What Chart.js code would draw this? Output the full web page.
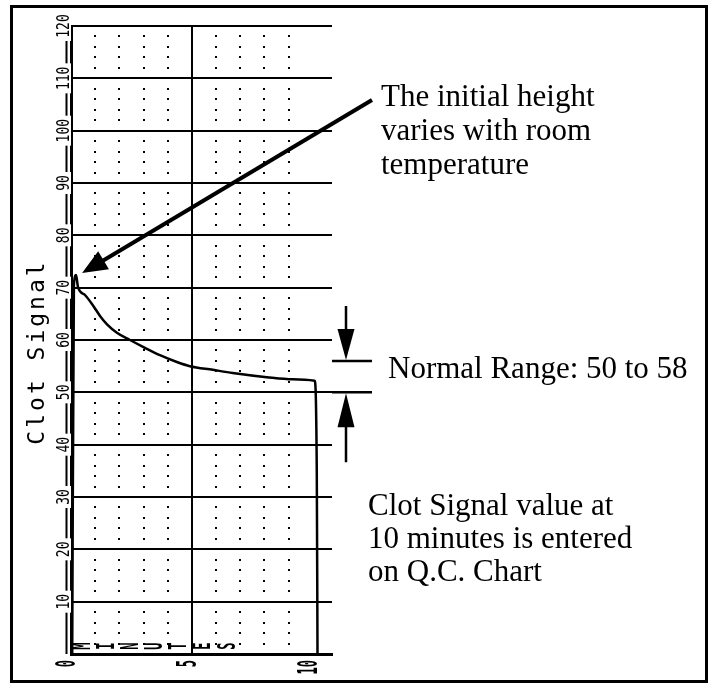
<!DOCTYPE html>
<html>
<head>
<meta charset="utf-8">
<script src="https://cdn.jsdelivr.net/npm/chart.js@4/dist/chart.umd.min.js"></script>
<style>
    body { margin: 0; background: #fff; }
    canvas { display: block; }
</style>
</head>
<body>
<canvas id="chart" width="713" height="688"></canvas>
<script>
/*********************************/
// Clot signal trace
const MINUTES = [0.05, 0.12, 0.21, 0.29, 0.58, 0.91, 1.2, 1.49, 1.9, 2.44, 2.98, 3.68, 4.38, 4.92, 5.87, 6.69, 8.1, 9.17, 10.08, 10.17, 10.2];
const SIGNAL = [0, 70.5, 72.4, 70.1, 68.6, 66.6, 64.6, 63.0, 61.4, 60.0, 58.7, 57.1, 55.8, 55.0, 54.3, 53.7, 52.9, 52.5, 52.2, 35, 0];

const X_TICKS = [0, 5, 10];
const Y_TICKS = [10, 20, 30, 40, 50, 60, 70, 80, 90, 100, 110, 120];
const X_TITLE = "MINUTES";
const Y_TITLE = "Clot Signal";

// bracket drawn beside the trace for the normal range
const RANGE_MARK = [50, 56];

const NOTE_TOP = ["The initial height", "varies with room", "temperature"];
const NOTE_RANGE = "Normal Range: 50 to 58";
const NOTE_BOTTOM = ["Clot Signal value at", "10 minutes is entered", "on Q.C. Chart"];

const SERIF = "31px 'Liberation Serif', serif";
const MONO = "'DejaVu Sans Mono', monospace";

/*****************************/
// Printer style glyphs: turned a quarter left and stretched
function rot_text(ctx, text, x, y, size, stretch, align, bold) {
    ctx.save();
    ctx.translate(x, y);
    ctx.rotate(-Math.PI / 2);
    ctx.scale(1, stretch);
    ctx.font = (bold ? "bold " : "") + size + "px " + MONO;
    ctx.textAlign = align;
    ctx.textBaseline = "middle";
    ctx.fillStyle = "#000";
    ctx.fillText(text, 0, 0);
    ctx.restore();
}

function arrow_head(ctx, tx, ty, fx, fy, len, half) {
    const d = Math.hypot(fx - tx, fy - ty);
    const ux = (fx - tx) / d, uy = (fy - ty) / d;
    const bx = tx + ux * len, by = ty + uy * len;
    ctx.beginPath();
    ctx.moveTo(tx, ty);
    ctx.lineTo(bx - uy * half, by + ux * half);
    ctx.lineTo(bx + uy * half, by - ux * half);
    ctx.closePath();
    ctx.fill();
}

const frame_plugin = {
    id: "frame",
    beforeDraw(chart) {
        const ctx = chart.ctx;
        ctx.save();
        ctx.fillStyle = "#fff";
        ctx.fillRect(0, 0, chart.width, chart.height);
        ctx.strokeStyle = "#000";
        ctx.lineWidth = 3;
        ctx.strokeRect(11.5, 6.5, 695, 675);
        ctx.restore();
    }
};

// dotted graph paper: every minute, every 2 units
const dots_plugin = {
    id: "dots",
    beforeDatasetsDraw(chart) {
        const ctx = chart.ctx;
        const xs = chart.scales.x, ys = chart.scales.y;
        ctx.save();
        ctx.fillStyle = "#000";
        for (let m = 1; m < 10; m++) {
            if (m === 5) continue;
            for (let v = 2; v < 120; v += 2) {
                if (v % 10 === 0) continue;
                const px = Math.round(xs.getPixelForValue(m));
                const py = Math.round(ys.getPixelForValue(v));
                ctx.fillRect(px - 1, py - 1, 2, 2);
            }
        }
        ctx.restore();
    }
};

const labels_plugin = {
    id: "labels",
    afterDraw(chart) {
        const ctx = chart.ctx;
        const xs = chart.scales.x, ys = chart.scales.y;
        const area = chart.chartArea;

        // y ticks sit on a broken vertical line
        ctx.save();
        ctx.strokeStyle = "#000";
        ctx.lineWidth = 2;
        ctx.beginPath();
        ctx.moveTo(66.5, area.bottom);
        ctx.lineTo(66.5, ys.getPixelForValue(120) - 8);
        ctx.stroke();
        ctx.restore();
        Y_TICKS.forEach(v => {
            const py = ys.getPixelForValue(v);
            const h = String(v).length * 8 + 6;
            ctx.fillStyle = "#fff";
            ctx.fillRect(56, py - h / 2, 15, h);
            rot_text(ctx, String(v), 64, py, 13, 1.4, "center", false);
        });

        X_TICKS.forEach(v => {
            rot_text(ctx, String(v), xs.getPixelForValue(v) - 3, 660, 12, 2.2, "right", true);
        });

        // axis title written inside the plot, one letter per minute
        for (let i = 0; i < X_TITLE.length; i++) {
            rot_text(ctx, X_TITLE[i], xs.getPixelForValue(i + 0.5), ys.getPixelForValue(1.5), 12, 2.1, "center", true);
        }

        ctx.save();
        ctx.translate(44, (area.top + area.bottom) / 2 + 12);
        ctx.rotate(-Math.PI / 2);
        ctx.font = "23px " + MONO;
        ctx.letterSpacing = "3px";
        ctx.textAlign = "center";
        ctx.fillStyle = "#000";
        ctx.fillText(Y_TITLE, 0, 0);
        ctx.restore();

        // notes
        ctx.save();
        ctx.font = SERIF;
        ctx.fillStyle = "#000";
        ctx.textAlign = "left";
        NOTE_TOP.forEach((t, i) => ctx.fillText(t, 381, 106 + i * 34));
        ctx.fillText(NOTE_RANGE, 388, 378);
        NOTE_BOTTOM.forEach((t, i) => ctx.fillText(t, 368, 515 + i * 33));

        // arrow to the initial peak
        const pk = SIGNAL.indexOf(Math.max(...SIGNAL));
        const tx = xs.getPixelForValue(MINUTES[pk]) + 6;
        const ty = ys.getPixelForValue(SIGNAL[pk]) - 2;
        const fx = 372, fy = 100;
        ctx.strokeStyle = "#000";
        ctx.lineWidth = 4;
        ctx.beginPath();
        ctx.moveTo(fx, fy);
        ctx.lineTo(tx + (fx - tx) * 0.06, ty + (fy - ty) * 0.06);
        ctx.stroke();
        arrow_head(ctx, tx, ty, fx, fy, 25, 10.5);

        // normal range bracket
        const ax = 346;
        const hi = ys.getPixelForValue(RANGE_MARK[1]);
        const lo = ys.getPixelForValue(RANGE_MARK[0]);
        ctx.lineWidth = 2.5;
        ctx.beginPath();
        ctx.moveTo(332, hi); ctx.lineTo(372, hi);
        ctx.moveTo(332, lo); ctx.lineTo(372, lo);
        ctx.moveTo(ax, hi - 55); ctx.lineTo(ax, hi - 20);
        ctx.moveTo(ax, lo + 20); ctx.lineTo(ax, lo + 70);
        ctx.stroke();
        arrow_head(ctx, ax, hi - 1, ax, hi - 50, 31, 8.5);
        arrow_head(ctx, ax, lo + 1, ax, lo + 50, 34, 8.5);
        ctx.restore();
    }
};

/*****************************/
new Chart(document.getElementById("chart"), {
    type: "line",
    data: {
        datasets: [{
            data: MINUTES.map((m, i) => ({ x: m, y: SIGNAL[i] })),
            borderColor: "#000",
            borderWidth: 2.5,
            pointRadius: 0,
            cubicInterpolationMode: "monotone",
            fill: false
        }]
    },
    plugins: [frame_plugin, dots_plugin, labels_plugin],
    options: {
        responsive: false,
        animation: false,
        devicePixelRatio: 1,
        layout: {
            padding: { left: 71, top: 26, right: 381, bottom: 34 }
        },
        plugins: {
            legend: { display: false },
            tooltip: { enabled: false }
        },
        scales: {
            x: {
                type: "linear",
                min: 0,
                max: 10.8,
                ticks: { display: false, stepSize: 5 },
                grid: {
                    drawTicks: false,
                    lineWidth: 2,
                    color: ctx => (ctx.tick && ctx.tick.value % 5 === 0) ? "#000" : "rgba(0,0,0,0)"
                },
                border: { color: "#000", width: 3 }
            },
            y: {
                min: 0,
                max: 120,
                ticks: { display: false, stepSize: 10 },
                grid: { drawTicks: false, lineWidth: 2, color: "#000" },
                border: { color: "#000", width: 3 }
            }
        }
    }
});
</script>
</body>
</html>
